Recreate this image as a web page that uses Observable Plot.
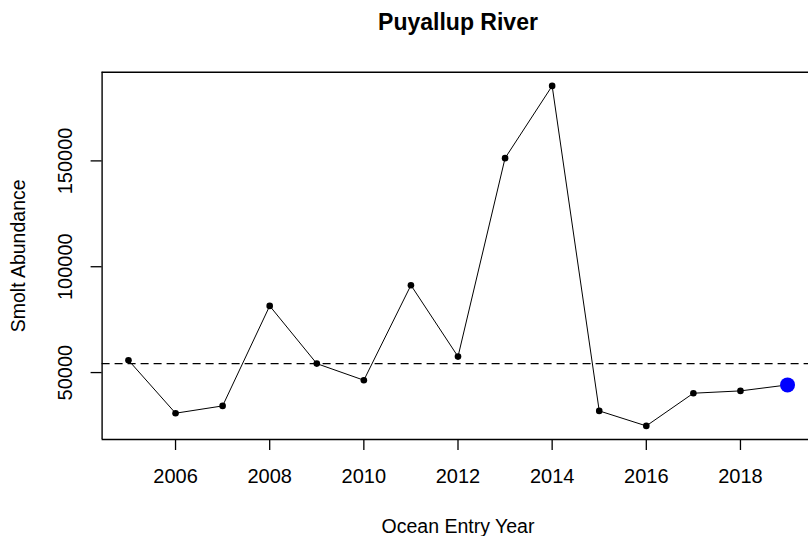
<!DOCTYPE html>
<html>
<head>
<meta charset="utf-8">
<script src="https://cdn.jsdelivr.net/npm/d3@7"></script>
<script src="https://cdn.jsdelivr.net/npm/@observablehq/plot@0.6"></script>
<style>
  html, body { margin: 0; padding: 0; background: white; overflow: hidden; }
</style>
</head>
<body>
<div id="chart"></div>
<script>
const years = [2005, 2006, 2007, 2008, 2009, 2010, 2011, 2012, 2013, 2014, 2015, 2016, 2017, 2018, 2019];
const abundance = [55840, 30800, 34250, 81490, 54230, 46390, 91270, 57540, 151300, 185420, 31890, 24800, 40250, 41340, 44170];
const referenceLevel = [54200];
const xTicks = [2006, 2008, 2010, 2012, 2014, 2016, 2018];
const yTicks = [50000, 100000, 150000];
const titleText = "Puyallup River";
const xLabel = "Ocean Entry Year";
const yLabel = "Smolt Abundance";

const data = years.map((year, i) => ({year, value: abundance[i]}));
const history = data.slice(0, -1);
const latest = data.slice(-1);

const xDomain = [2004.44, 2019.56];
const yDomain = [18380, 191900];

const chart = Plot.plot({
  width: 808,
  height: 536,
  marginLeft: 101.6,
  marginRight: -5.4,
  marginTop: 71.7,
  marginBottom: 97,
  style: {fontFamily: "'Liberation Sans', Arial, sans-serif", fontSize: "19px", color: "black", background: "white"},
  x: {domain: xDomain},
  y: {domain: yDomain},
  marks: [
    Plot.ruleY(referenceLevel, {stroke: "black", strokeWidth: 1.3, strokeDasharray: "8,5"}),
    Plot.line(data, {x: "year", y: "value", stroke: "black", strokeWidth: 1}),
    Plot.dot(history, {x: "year", y: "value", r: 3.3, fill: "black", stroke: "none"}),
    Plot.dot(latest, {x: "year", y: "value", r: 7.5, fill: "#0000ff", stroke: "none"}),
    Plot.ruleY([yDomain[0], yDomain[1]], {stroke: "black", strokeWidth: 1.4}),
    Plot.ruleX([xDomain[0]], {stroke: "black", strokeWidth: 1.4}),
    Plot.axisX(xTicks, {tickSize: 11, tickPadding: 18, fontSize: 20, strokeWidth: 1.3, label: null, tickFormat: d => String(d)}),
    Plot.axisY(yTicks, {tickSize: 11, strokeWidth: 1.3, label: null, tickFormat: () => ""}),
    Plot.text(yTicks, {x: xDomain[0], y: d => d, text: d => String(d), rotate: -90, dx: -36.6, fontSize: 20, fill: "black", textAnchor: "middle", lineAnchor: "middle"}),
    Plot.text([xLabel], {frameAnchor: "bottom", dy: 87, fontSize: 19.5, fill: "black", textAnchor: "middle", lineAnchor: "middle"}),
    Plot.text([yLabel], {frameAnchor: "left", dx: -83.6, rotate: -90, fontSize: 19.5, fill: "black", textAnchor: "middle", lineAnchor: "middle"}),
    Plot.text([titleText], {frameAnchor: "top", dy: -49.5, fontSize: 23, fontWeight: "bold", fill: "black", textAnchor: "middle", lineAnchor: "middle"})
  ]
});
document.getElementById("chart").appendChild(chart);
</script>
</body>
</html>
